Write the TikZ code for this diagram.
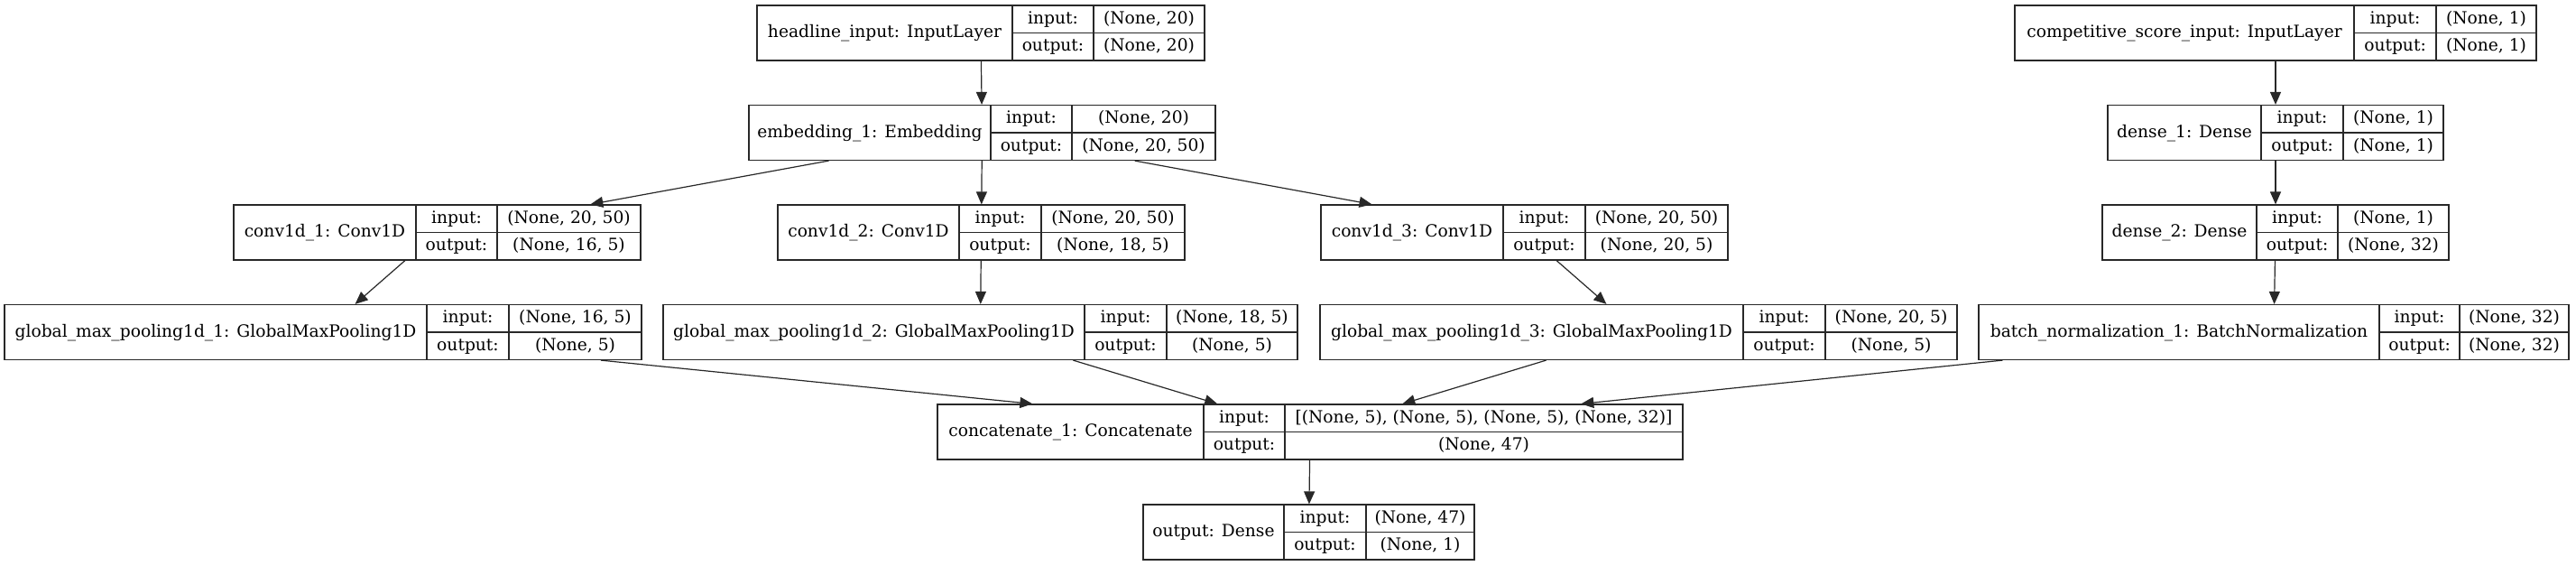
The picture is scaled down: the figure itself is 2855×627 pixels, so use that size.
\documentclass[tikz,border=0pt]{standalone}
\usepackage{fontspec}
\setmainfont{DejaVu Serif}
\usetikzlibrary{arrows.meta}
\definecolor{ink}{RGB}{40,40,40}
\tikzset{
  rec/.style={draw=ink, line width=0.9pt, inner sep=0pt, minimum height=45.75pt},
  recline/.style={draw=ink, line width=0.9pt},
  rtxt/.style={inner sep=0pt, anchor=base, text=black, font=\fontsize{14pt}{17pt}\selectfont},
  edge/.style={draw=ink, line width=0.9pt, -{Triangle[length=10.5pt,width=9pt]}},
}
% #1 name, #2 left, #3 divider 1, #4 divider 2, #5 right, #6 centre y, #7 title, #8 input shape, #9 output shape
\newcommand\recbox[9]{%
  \node[rec, minimum width={(#5-#2)*0.75pt}] (#1) at ({(#2+#5)/2},#6) {};
  \draw[recline] (#3,#6-30.5) -- (#3,#6+30.5);
  \draw[recline] (#4,#6-30.5) -- (#4,#6+30.5);
  \draw[recline] (#3,#6) -- (#5,#6);
  \node[rtxt] (#1-t) at ({(#2+#3)/2},#6+5.2) {#7};
  \node[rtxt] (#1-il) at ({(#3+#4)/2},#6-15.25+5.2) {input:};
  \node[rtxt] (#1-ol) at ({(#3+#4)/2},#6+15.25+5.2) {output:};
  \node[rtxt] (#1-iv) at ({(#4+#5)/2},#6-15.25+5.2) {#8};
  \node[rtxt] (#1-ov) at ({(#4+#5)/2},#6+15.25+5.2) {#9};
}
\begin{document}
\begin{tikzpicture}[x=0.75pt,y=-0.75pt]
\useasboundingbox (0,0) rectangle (2855,627);
% row 1
\recbox{hin}{839}{1122}{1212}{1335}{36.5}{headline\_input: InputLayer}{(None, 20)}{(None, 20)}
\recbox{csin}{2233}{2609}{2700}{2811}{36.5}{competitive\_score\_input: InputLayer}{(None, 1)}{(None, 1)}
% row 2
\recbox{emb}{830}{1098}{1188}{1347}{147}{embedding\_1: Embedding}{(None, 20)}{(None, 20, 50)}
\recbox{d1}{2336}{2506}{2597}{2708}{147}{dense\_1: Dense}{(None, 1)}{(None, 1)}
% row 3
\recbox{c1}{259}{461}{551}{710}{257.5}{conv1d\_1: Conv1D}{(None, 20, 50)}{(None, 16, 5)}
\recbox{c2}{862}{1063}{1154}{1313}{257.5}{conv1d\_2: Conv1D}{(None, 20, 50)}{(None, 18, 5)}
\recbox{c3}{1464}{1666}{1757}{1915}{257.5}{conv1d\_3: Conv1D}{(None, 20, 50)}{(None, 20, 5)}
\recbox{d2}{2330}{2501}{2591}{2714}{257.5}{dense\_2: Dense}{(None, 1)}{(None, 32)}
% row 4
\recbox{g1}{5}{473}{564}{711}{368}{global\_max\_pooling1d\_1: GlobalMaxPooling1D}{(None, 16, 5)}{(None, 5)}
\recbox{g2}{735}{1202}{1293}{1438}{368}{global\_max\_pooling1d\_2: GlobalMaxPooling1D}{(None, 18, 5)}{(None, 5)}
\recbox{g3}{1463}{1932}{2023}{2169}{368}{global\_max\_pooling1d\_3: GlobalMaxPooling1D}{(None, 20, 5)}{(None, 5)}
\recbox{bn}{2193}{2637}{2726}{2847}{368}{batch\_normalization\_1: BatchNormalization}{(None, 32)}{(None, 32)}
% row 5
\recbox{cat}{1039}{1334}{1424}{1865}{478.5}{concatenate\_1: Concatenate}{[(None, 5), (None, 5), (None, 5), (None, 32)]}{(None, 47)}
% row 6
\recbox{out}{1267}{1423}{1514}{1634}{589.5}{output: Dense}{(None, 47)}{(None, 1)}
% edges
\draw[edge] (hin) -- (emb);
\draw[edge] (emb) -- (c1);
\draw[edge] (emb) -- (c2);
\draw[edge] (emb) -- (c3);
\draw[edge] (c1) -- (g1);
\draw[edge] (c2) -- (g2);
\draw[edge] (c3) -- (g3);
\draw[edge] (csin) -- (d1);
\draw[edge] (d1) -- (d2);
\draw[edge] (d2) -- (bn);
\draw[edge] (g1) -- (cat);
\draw[edge] (g2) -- (cat);
\draw[edge] (g3) -- (cat);
\draw[edge] (bn) -- (cat);
\draw[edge] (cat) -- (out);
\end{tikzpicture}
\end{document}
